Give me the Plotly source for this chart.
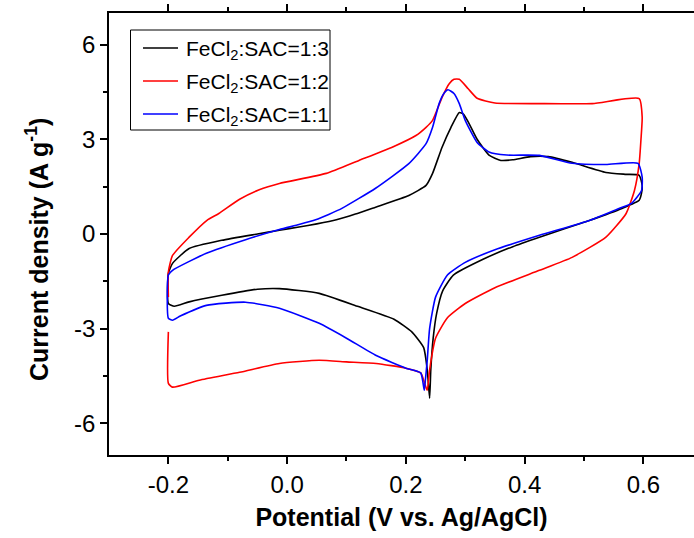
import plotly.graph_objects as go

# ---- data (Potential V, Current density A/g) ----
black_v = [-0.2, -0.193, -0.165, -0.11, -0.05, -0.013, 0.02, 0.05, 0.083, 0.115, 0.149, 0.205, 0.234, 0.245, 0.261, 0.276, 0.29, 0.297, 0.305, 0.32, 0.34, 0.36, 0.38, 0.41, 0.44, 0.48, 0.537, 0.571, 0.593, 0.598, 0.597, 0.593, 0.564, 0.509, 0.425, 0.38, 0.33, 0.28, 0.262, 0.252, 0.246, 0.242, 0.24, 0.236, 0.23, 0.21, 0.18, 0.12, 0.054, -0.013, -0.05, -0.11, -0.165, -0.19, -0.2, -0.2]
black_i = [-1.25, -0.93, -0.46, -0.2, 0.0, 0.12, 0.22, 0.32, 0.45, 0.63, 0.85, 1.22, 1.54, 1.92, 2.75, 3.38, 3.85, 3.8, 3.55, 3.0, 2.5, 2.33, 2.35, 2.45, 2.45, 2.27, 1.95, 1.89, 1.86, 1.54, 1.3, 1.07, 0.81, 0.43, -0.1, -0.4, -0.8, -1.3, -1.8, -2.5, -3.3, -4.3, -5.2, -4.3, -3.6, -3.1, -2.7, -2.3, -1.88, -1.73, -1.75, -1.94, -2.15, -2.29, -2.2, -1.25]

red_v = [-0.2, -0.2, -0.193, -0.148, -0.08, -0.013, 0.054, 0.1, 0.15, 0.2, 0.225, 0.232, 0.236, 0.24, 0.25, 0.27, 0.3, 0.35, 0.425, 0.48, 0.537, 0.571, 0.585, 0.593, 0.596, 0.598, 0.593, 0.514, 0.425, 0.35, 0.32, 0.305, 0.29, 0.281, 0.273, 0.261, 0.245, 0.234, 0.217, 0.177, 0.121, 0.066, -0.013, -0.047, -0.08, -0.115, -0.135, -0.165, -0.193, -0.2, -0.2]
red_i = [-3.1, -4.73, -4.85, -4.63, -4.38, -4.1, -4.0, -4.05, -4.1, -4.25, -4.4, -4.75, -4.95, -4.3, -3.3, -2.65, -2.2, -1.7, -1.15, -0.74, -0.1, 0.65, 1.38, 2.24, 3.0, 3.7, 4.29, 4.13, 4.13, 4.15, 4.3, 4.6, 4.9, 4.9, 4.76, 4.33, 3.6, 3.38, 3.12, 2.75, 2.33, 1.92, 1.6, 1.4, 1.1, 0.65, 0.435, -0.1, -0.68, -1.2, -2.0]

blue_v = [-0.2, -0.193, -0.136, -0.07, -0.013, 0.02, 0.048, 0.07, 0.093, 0.149, 0.205, 0.234, 0.245, 0.256, 0.264, 0.271, 0.281, 0.29, 0.3, 0.32, 0.34, 0.37, 0.425, 0.48, 0.537, 0.591, 0.598, 0.597, 0.58, 0.559, 0.509, 0.425, 0.35, 0.3, 0.27, 0.25, 0.24, 0.236, 0.233, 0.231, 0.225, 0.2, 0.15, 0.1, 0.054, -0.013, -0.07, -0.136, -0.18, -0.193, -0.2, -0.2]
blue_i = [-1.3, -1.15, -0.61, -0.18, 0.14, 0.3, 0.45, 0.62, 0.82, 1.45, 2.23, 2.86, 3.38, 4.13, 4.45, 4.57, 4.45, 4.13, 3.6, 2.9, 2.6, 2.5, 2.49, 2.24, 2.2, 2.24, 1.8, 1.38, 0.97, 0.81, 0.43, -0.04, -0.5, -0.9, -1.3, -2.0, -3.0, -4.0, -4.6, -4.95, -4.4, -4.25, -3.85, -3.3, -2.83, -2.35, -2.16, -2.26, -2.6, -2.73, -2.67, -1.3]

names = ["FeCl<sub>2</sub>:SAC=1:3", "FeCl<sub>2</sub>:SAC=1:2", "FeCl<sub>2</sub>:SAC=1:1"]
colors = ["#000000", "#FF0000", "#0000FF"]

x_ticks = [-0.2, 0.0, 0.2, 0.4, 0.6]
x_ticktext = ["-0.2", "0.0", "0.2", "0.4", "0.6"]
x_minor = [-0.1, 0.1, 0.3, 0.5]
y_ticks = [6, 3, 0, -3, -6]
y_ticktext = ["6", "3", "0", "-3", "-6"]
y_minor = [4.5, 1.5, -1.5, -4.5]

x_title = "<b>Potential (V vs. Ag/AgCl)</b>"
y_title = "<b>Current density (A g<sup>-1</sup>)</b>"

FONT = "Liberation Sans, Arial, sans-serif"

# plot-area pixel geometry (for the hand-placed legend box and y title)
L, R, T, B = 109, 694, 13, 455
def px(xp):
    return (xp - L) / (R - L)
def py(yp):
    return (B - yp) / (B - T)

fig = go.Figure()
series = [(black_v, black_i), (red_v, red_i), (blue_v, blue_i)]
for (vx, iy), nm, c in zip(series, names, colors):
    fig.add_trace(go.Scatter(x=vx, y=iy, mode="lines", name=nm, showlegend=False,
                             line=dict(color=c, width=1.6, shape="spline", smoothing=0.5)))

# legend: box, line samples, labels
shapes = [dict(type="rect", xref="paper", yref="paper",
               x0=px(130.5), x1=px(330), y0=py(130), y1=py(30),
               line=dict(color="black", width=1), fillcolor="white", layer="above")]
annotations = []
row_y = [48, 81, 114]
for ry, nm, c in zip(row_y, names, colors):
    shapes.append(dict(type="line", xref="paper", yref="paper",
                       x0=px(143), x1=px(178), y0=py(ry), y1=py(ry),
                       line=dict(color=c, width=1.6), layer="above"))
    annotations.append(dict(xref="paper", yref="paper", x=px(184), y=py(ry),
                            xanchor="left", yanchor="middle", yshift=-2,
                            text=nm, showarrow=False,
                            font=dict(size=21, family=FONT, color="black")))

# y axis title
annotations.append(dict(xref="paper", yref="paper", x=px(37), y=py(250),
                        xanchor="center", yanchor="middle", textangle=-90,
                        text=y_title, showarrow=False,
                        font=dict(size=25, family=FONT, color="black")))

fig.update_layout(
    width=694, height=538,
    margin=dict(l=L, r=694 - R, t=T, b=538 - B),
    paper_bgcolor="white", plot_bgcolor="white",
    font=dict(family=FONT, color="black", size=24),
    showlegend=False,
    shapes=shapes, annotations=annotations,
    xaxis=dict(range=[-0.3, 0.6853], tickvals=x_ticks, ticktext=x_ticktext,
               ticks="outside", ticklen=7, tickwidth=1.5, tickcolor="black",
               showline=True, linecolor="black", linewidth=1.6, mirror="allticks",
               showgrid=False, zeroline=False,
               minor=dict(tickvals=x_minor, ticks="outside", ticklen=4, tickwidth=1.5, tickcolor="black"),
               tickfont=dict(size=24),
               title=dict(text=x_title, font=dict(size=25), standoff=12)),
    yaxis=dict(range=[-7, 7], tickvals=y_ticks, ticktext=y_ticktext,
               ticks="outside", ticklen=7, tickwidth=1.5, tickcolor="black",
               showline=True, linecolor="black", linewidth=1.6, mirror=False,
               showgrid=False, zeroline=False,
               minor=dict(tickvals=y_minor, ticks="outside", ticklen=4, tickwidth=1.5, tickcolor="black"),
               tickfont=dict(size=24)),
)

fig.write_html("out.html")
